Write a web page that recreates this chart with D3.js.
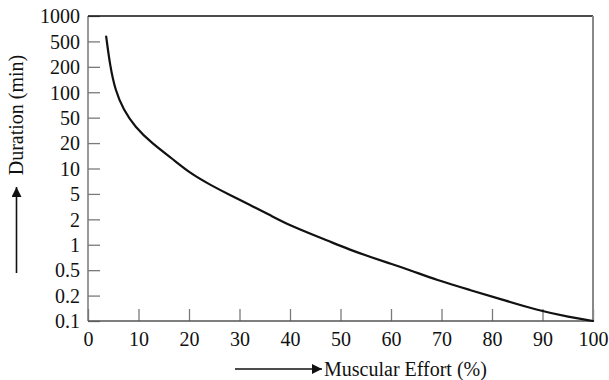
<!DOCTYPE html>
<html>
<head>
<meta charset="utf-8">
<script src="https://cdn.jsdelivr.net/npm/d3@7"></script>
<style>
  html, body { margin: 0; padding: 0; background: #fff; }
  svg { display: block; }
  text { font-family: "Liberation Serif", "Times New Roman", serif; fill: #111; }
</style>
</head>
<body>
<svg id="chart" width="609" height="380"></svg>
<script>
// ---- data ----
const effort   = [3.6, 4.4, 5.4, 7, 9.3, 12.6, 16.6, 20.2, 24.2, 28.1, 32.1, 36, 40, 47.9, 51.9, 55.8, 59.8, 63.8, 69, 75.6, 82.2, 88.8, 95.4, 100];
const duration = [570, 200, 106, 62, 36, 20, 13.2, 8.8, 6.4, 4.8, 3.36, 2.34, 1.68, 1.09, 0.87, 0.72, 0.6, 0.5, 0.35, 0.245, 0.178, 0.135, 0.111, 0.1];
const yTicks   = [1000, 500, 200, 100, 50, 20, 10, 5, 2, 1, 0.5, 0.2, 0.1];
const xTicks   = [0, 10, 20, 30, 40, 50, 60, 70, 80, 90, 100];
const xTitle   = "Muscular Effort (%)";
const yTitle   = "Duration (min)";

// ---- layout ----
const svg = d3.select("#chart");
const L = 88, R = 593, T = 16, B = 321;
const FS = 20;

const x = d3.scaleLinear().domain([0, 100]).range([L, R]);
// evenly spaced 1-2-5 tick rows, log-interpolated between them
const rowPos = d3.scalePoint().domain(yTicks.map(String)).range([T, B]);
const y = d3.scaleLog().domain(yTicks).range(yTicks.map(d => rowPos(String(d))));

const tickColor = "#7a7a7a";

// axes
const gx = svg.append("g").attr("transform", `translate(0,${B})`)
  .call(d3.axisBottom(x).tickValues(xTicks).tickSize(-12).tickPadding(11).tickFormat(d => String(d)));
const gy = svg.append("g").attr("transform", `translate(${L},0)`)
  .call(d3.axisLeft(y).tickValues(yTicks).tickSize(-12).tickPadding(8).tickFormat(d => String(d)));
[gx, gy].forEach(g => {
  g.select(".domain").remove();
  g.selectAll(".tick line").attr("stroke", tickColor).attr("stroke-width", 1.3);
  g.selectAll(".tick text").style("font-size", FS + "px").style("font-family", '"Liberation Serif", serif').attr("fill", "#111");
});
gy.selectAll(".tick text").attr("dy", "0.34em");

// frame
svg.append("line").attr("x1", L).attr("x2", L).attr("y1", T).attr("y2", B)
  .attr("stroke", "#777").attr("stroke-width", 1.5);
svg.append("line").attr("x1", L).attr("x2", R).attr("y1", B).attr("y2", B)
  .attr("stroke", "#555").attr("stroke-width", 1.5);
svg.append("line").attr("x1", L).attr("x2", R).attr("y1", T).attr("y2", T)
  .attr("stroke", "#111").attr("stroke-width", 1.5);
svg.append("line").attr("x1", R).attr("x2", R).attr("y1", T).attr("y2", B)
  .attr("stroke", "#888").attr("stroke-width", 2);

// curve
const pts = effort.map((e, i) => [e, duration[i]]);
svg.append("path")
  .datum(pts)
  .attr("fill", "none")
  .attr("stroke", "#111")
  .attr("stroke-width", 2.2)
  .attr("stroke-linecap", "round")
  .attr("d", d3.line().x(d => x(d[0])).y(d => y(d[1])).curve(d3.curveBasis));

// arrow marker
const defs = svg.append("defs");
defs.append("marker").attr("id", "ah")
  .attr("viewBox", "0 0 10 10").attr("refX", 10).attr("refY", 5)
  .attr("markerUnits", "userSpaceOnUse")
  .attr("markerWidth", 20).attr("markerHeight", 10)
  .attr("orient", "auto")
  .append("path").attr("d", "M0,0 L10,5 L0,10 Z").attr("fill", "#111");

// x title with arrow
svg.append("line").attr("x1", 235).attr("x2", 322).attr("y1", 369).attr("y2", 369)
  .attr("stroke", "#111").attr("stroke-width", 1.6).attr("marker-end", "url(#ah)");
svg.append("text").attr("x", 324).attr("y", 369).attr("dy", "0.34em")
  .style("font-size", FS + "px").text(xTitle);

// y title with arrow
svg.append("line").attr("x1", 16.5).attr("x2", 16.5).attr("y1", 273).attr("y2", 187)
  .attr("stroke", "#111").attr("stroke-width", 1.6).attr("marker-end", "url(#ah)");
svg.append("text").attr("transform", "translate(16,115) rotate(-90)")
  .attr("text-anchor", "middle").attr("dy", "0.34em")
  .style("font-size", FS + "px").text(yTitle);
</script>
</body>
</html>
